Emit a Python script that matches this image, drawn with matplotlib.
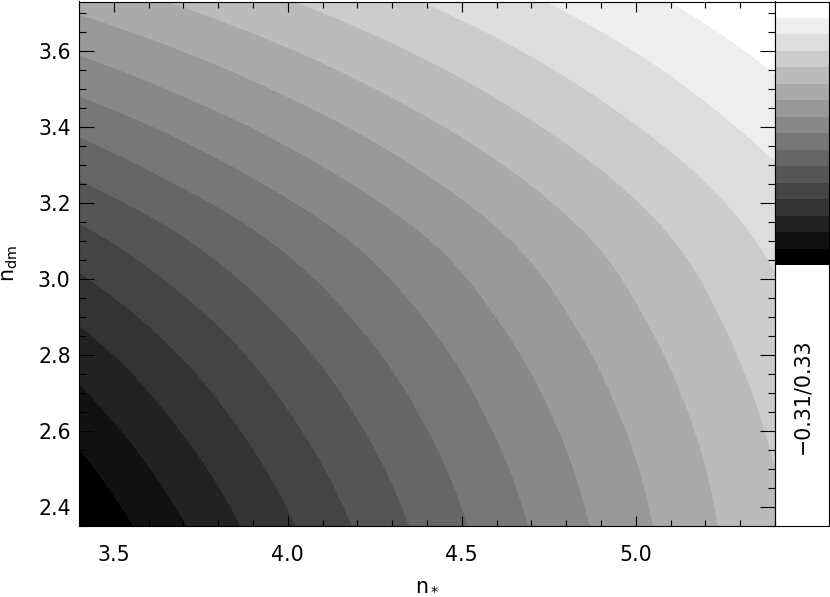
import numpy as np
import matplotlib
matplotlib.use("Agg")
import matplotlib.pyplot as plt
import matplotlib.tri as mtri
from matplotlib.ticker import MultipleLocator, FormatStrFormatter

# grid nodes (n_*, n_dm) and field values
n_star = [3.4, 3.65, 3.9, 4.15, 4.4, 4.65, 4.9, 5.15, 5.4]
n_dm = [2.35, 2.45, 2.55, 2.65, 2.75, 2.85, 2.95, 3.05,
        3.15, 3.25, 3.35, 3.45, 3.55, 3.65, 3.75]
field = [
    [-0.3100, -0.2458, -0.1813, -0.1188, -0.0582, 0.0004, 0.0569, 0.1114, 0.1640],
    [-0.2920, -0.2285, -0.1666, -0.1066, -0.0483, 0.0083, 0.0632, 0.1162, 0.1676],
    [-0.2704, -0.2098, -0.1508, -0.0932, -0.0371, 0.0175, 0.0706, 0.1222, 0.1724],
    [-0.2476, -0.1900, -0.1336, -0.0785, -0.0246, 0.0281, 0.0796, 0.1298, 0.1788],
    [-0.2240, -0.1694, -0.1156, -0.0629, -0.0112, 0.0396, 0.0894, 0.1382, 0.1860],
    [-0.1980, -0.1465, -0.0956, -0.0455, 0.0039, 0.0526, 0.1006, 0.1478, 0.1944],
    [-0.1700, -0.1218, -0.0739, -0.0266, 0.0203, 0.0667, 0.1127, 0.1582, 0.2032],
    [-0.1408, -0.0958, -0.0511, -0.0065, 0.0378, 0.0820, 0.1259, 0.1697, 0.2132],
    [-0.1096, -0.0672, -0.0250, 0.0172, 0.0591, 0.1010, 0.1426, 0.1842, 0.2256],
    [-0.0740, -0.0344, 0.0050, 0.0444, 0.0837, 0.1229, 0.1620, 0.2011, 0.2400],
    [-0.0388, -0.0018, 0.0353, 0.0722, 0.1092, 0.1462, 0.1831, 0.2199, 0.2568],
    [-0.0020, 0.0324, 0.0669, 0.1014, 0.1359, 0.1705, 0.2051, 0.2397, 0.2744],
    [0.0352, 0.0669, 0.0988, 0.1307, 0.1627, 0.1948, 0.2270, 0.2592, 0.2916],
    [0.0724, 0.1015, 0.1308, 0.1602, 0.1898, 0.2195, 0.2494, 0.2794, 0.3096],
    [0.1100, 0.1365, 0.1632, 0.1901, 0.2172, 0.2445, 0.2720, 0.2997, 0.3276],
]
z_min, z_max = -0.31, 0.33
range_label = "\u22120.31/0.33"

n_levels = 16
levels = np.linspace(z_min, z_max, n_levels + 1)
grays = ["#%02x%02x%02x" % (17 * k, 17 * k, 17 * k) for k in range(n_levels)]

plt.rcParams["font.family"] = "DejaVu Sans"
plt.rcParams["font.size"] = 14.8
plt.rcParams["mathtext.fontset"] = "dejavusans"

W, H = 830, 597
fig = plt.figure(figsize=(W / 100, H / 100), dpi=100)

# main panel: pixel box 79..775 x 1.5..526
ax = fig.add_axes([79 / W, (H - 526) / H, 696 / W, 524.5 / H])

# smooth the band edges with matplotlib's own refiner
gx, gy = np.meshgrid(n_star, n_dm)
triang = mtri.Triangulation(gx.ravel(), gy.ravel())
refiner = mtri.UniformTriRefiner(triang)
tri_fine, z_fine = refiner.refine_field(np.array(field).ravel(), subdiv=3)
z_fine = np.clip(z_fine, z_min, z_max)
cs = ax.tricontourf(tri_fine, z_fine, levels=levels, colors=grays)

ax.set_xlim(3.4, 5.4)
ax.set_ylim(2.35, 3.73)
ax.xaxis.set_major_locator(MultipleLocator(0.5))
ax.xaxis.set_minor_locator(MultipleLocator(0.1))
ax.yaxis.set_major_locator(MultipleLocator(0.2))
ax.yaxis.set_minor_locator(MultipleLocator(0.05))
ax.xaxis.set_major_formatter(FormatStrFormatter("%.1f"))
ax.yaxis.set_major_formatter(FormatStrFormatter("%.1f"))
ax.tick_params(which="both", direction="in", top=True, right=True,
               color="black", width=0.8)
ax.tick_params(axis="x", which="major", length=7.5, pad=14)
ax.tick_params(axis="x", which="minor", length=4.5)
ax.tick_params(axis="y", which="major", length=10.5, pad=6)
ax.tick_params(axis="y", which="minor", length=5)
for sp in ax.spines.values():
    sp.set_linewidth(0.8)

ax.set_xlabel(r"$\mathrm{n}_*$")
ax.xaxis.set_label_coords(0.5, -(574 - 526) / 524.5)
ax.set_ylabel(r"$\mathrm{n}_{\mathrm{dm}}$")
ax.yaxis.set_label_coords((20 - 79) / 696, 0.5)

# colour bar in the upper part of the side box
cax = fig.add_axes([775 / W, (H - 265) / H, 54 / W, 263.5 / H])
cb = fig.colorbar(cs, cax=cax)
cb.outline.set_visible(False)
cax.set_axis_off()

# side box frame with the range label
fax = fig.add_axes([775 / W, (H - 526) / H, 54 / W, 524.5 / H])
fax.set_facecolor("none")
fax.set_xticks([])
fax.set_yticks([])
for sp in fax.spines.values():
    sp.set_linewidth(0.8)
fax.text(0.5, (526 - 396) / 524.5, range_label, rotation=90,
         ha="center", va="center", transform=fax.transAxes)

fig.savefig("out.png", dpi=100)
